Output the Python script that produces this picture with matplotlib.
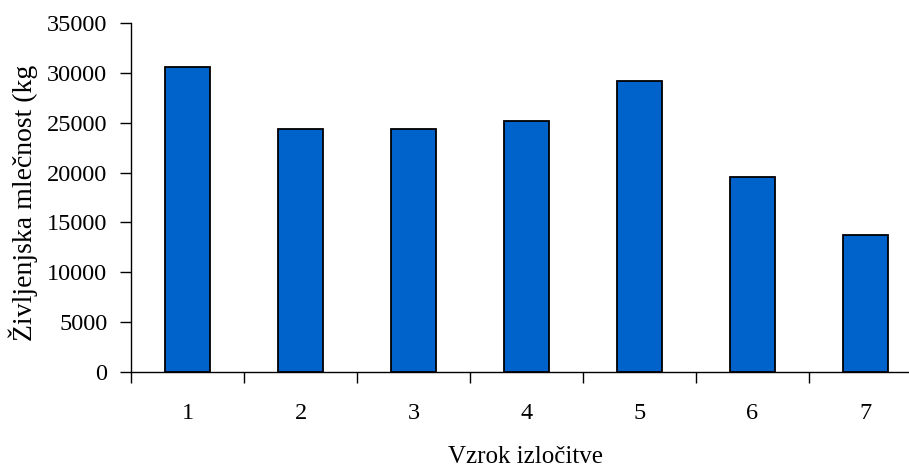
import matplotlib
matplotlib.use("Agg")
import matplotlib.pyplot as plt
import numpy as np

categories = ["1", "2", "3", "4", "5", "6", "7"]
values = [30600, 24400, 24400, 25200, 29200, 19550, 13700]
yticks = [0, 5000, 10000, 15000, 20000, 25000, 30000, 35000]

plt.rcParams['font.family'] = ['Liberation Serif', 'DejaVu Serif']

W, H = 909, 467
fig = plt.figure(figsize=(W / 100, H / 100), dpi=100)
left, right, bottom, top = 131, 922, 372, 23
ax = fig.add_axes([left / W, (H - bottom) / H, (right - left) / W, (bottom - top) / H])

x = np.arange(len(categories))
ax.bar(x, values, width=0.4, color='#0063CC', edgecolor='black', linewidth=1.3, zorder=3)

ax.set_xlim(-0.5, len(categories) - 0.5)
ax.set_ylim(0, 35000)
ax.set_yticks(yticks)
ax.set_yticklabels([str(t) for t in yticks], fontsize=17.5)

ax.set_xticks(np.arange(len(categories) + 1) - 0.5)
ax.set_xticklabels([])
ax.set_xticks(x, minor=True)
ax.set_xticklabels(categories, minor=True, fontsize=17.5)
ax.tick_params(axis='x', which='minor', length=0, pad=22)
ax.tick_params(axis='x', which='major', length=8, width=1, direction='out')
ax.tick_params(axis='y', length=8, width=1, direction='out', pad=9)

for s in ['top', 'right']:
    ax.spines[s].set_visible(False)
for s in ['left', 'bottom']:
    ax.spines[s].set_linewidth(1)

fig.text(526 / W, (H - 457) / H, "Vzrok izločitve", ha='center', va='center', fontsize=18)
fig.text(23 / W, (H - 202.5) / H, "Življenjska mlečnost (kg", ha='center', va='center',
         rotation=90, fontsize=20)

fig.savefig("out.png", dpi=100)
